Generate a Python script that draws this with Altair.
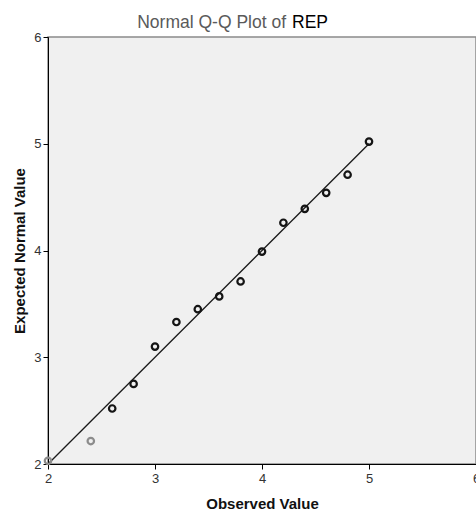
import altair as alt
import pandas as pd

# Data
observed = [2.0, 2.4, 2.6, 2.8, 3.0, 3.2, 3.4, 3.6, 3.8, 4.0, 4.2, 4.4, 4.6, 4.8, 5.0]
expected = [2.03, 2.215, 2.52, 2.75, 3.10, 3.33, 3.45, 3.57, 3.71, 3.99, 4.26, 4.39, 4.54, 4.71, 5.02]
tone = ["faint", "faint"] + ["dark"] * 13
line_x = [2, 5]
line_y = [2, 5]
tick_values = [2, 3, 4, 5, 6]

points_df = pd.DataFrame({"obs": observed, "exp": expected, "tone": tone})
line_df = pd.DataFrame({"obs": line_x, "exp": line_y})

x_scale = alt.Scale(domain=[2, 6], nice=False, zero=False)
y_scale = alt.Scale(domain=[2, 6], nice=False, zero=False)

x_axis = alt.Axis(
    values=tick_values, format="d", labelFlush=False, title="Observed Value", grid=False,
    titleY=44, titleBaseline="alphabetic",
)
y_axis = alt.Axis(
    values=tick_values, format="d", labelFlush=False, title="Expected Normal Value", grid=False,
    titleX=-24, titleY=213.5, titleAngle=270, titleBaseline="alphabetic",
    titleAlign="center",
)

line = alt.Chart(line_df).mark_line(color="#1a1a1a", strokeWidth=1.3).encode(
    x=alt.X("obs:Q", scale=x_scale, axis=x_axis),
    y=alt.Y("exp:Q", scale=y_scale, axis=y_axis),
)

pts = alt.Chart(points_df).mark_point(
    shape="circle", filled=False, size=42, strokeWidth=2.2, opacity=1
).encode(
    x=alt.X("obs:Q", scale=x_scale),
    y=alt.Y("exp:Q", scale=y_scale),
    stroke=alt.Stroke("tone:N", scale=alt.Scale(domain=["faint", "dark"], range=["#8c8c8c", "#141414"]), legend=None),
)

title_a = alt.Chart(pd.DataFrame({"t": ["Normal Q-Q Plot of"]})).mark_text(
    align="right", baseline="alphabetic", fontSize=17.5, font="Liberation Sans", color="#5a5a5a"
).encode(text="t:N", x=alt.value(238), y=alt.value(-9))

title_b = alt.Chart(pd.DataFrame({"t": ["REP"]})).mark_text(
    align="left", baseline="alphabetic", fontSize=17.5, font="Liberation Sans", color="#000000"
).encode(text="t:N", x=alt.value(244), y=alt.value(-9))

chart = alt.layer(line, pts, title_a, title_b).properties(
    width=428, height=427,
    autosize=alt.AutoSizeParams(type="none"),
    padding={"left": 48, "top": 37, "right": 0, "bottom": 47},
    background="white",
).configure_view(
    fill="#f0f0f0", stroke="#8a8a8a", strokeWidth=1.5,
).configure_axis(
    domainColor="#000000", domainWidth=1, tickColor="#000000", tickSize=5,
    labelFont="Liberation Sans", labelFontSize=13, labelColor="#333333",
    titleFont="Liberation Sans", titleFontSize=15, titleFontWeight="bold", titleColor="#111111",
).configure_axisX(labelPadding=3).configure_axisY(labelPadding=2)

chart.save("out.html", embed_options={"renderer": "svg", "actions": False})
